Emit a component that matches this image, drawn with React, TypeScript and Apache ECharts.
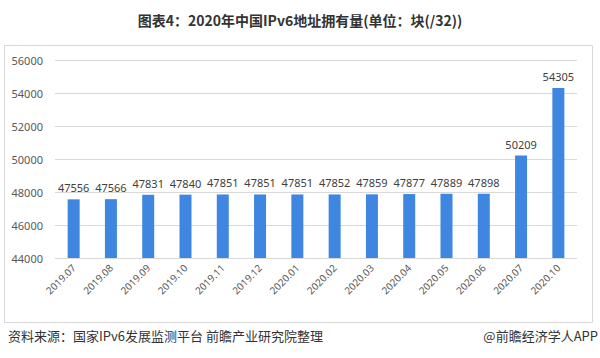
import React, { useEffect, useRef } from "react";
import * as echarts from "echarts";

const categories = ["2019.07","2019.08","2019.09","2019.10","2019.11","2019.12","2020.01","2020.02","2020.03","2020.04","2020.05","2020.06","2020.07","2020.10"];
const values = [47556,47566,47831,47840,47851,47851,47851,47852,47859,47877,47889,47898,50209,54305];
const yMin = 44000;
const yMax = 56000;
const yInterval = 2000;
const title = "图表4：2020年中国IPv6地址拥有量(单位：块(/32))";
const source = "资料来源：国家IPv6发展监测平台 前瞻产业研究院整理";
const brand = "@前瞻经济学人APP";

export default function App() {
  const ref = useRef<HTMLDivElement>(null);
  useEffect(() => {
    const chart = echarts.init(ref.current!, null, { renderer: "svg" });
    chart.setOption({
      animation: false,
      backgroundColor: "#ffffff",
      title: {
        text: title,
        left: "center",
        top: 8,
        textStyle: { fontSize: 14, fontWeight: "bold", color: "#333333", fontFamily: "Noto Sans CJK SC" },
      },
      graphic: [
        { type: "rect", shape: { x: 4.5, y: 45.5, width: 588, height: 277 }, style: { fill: "none", stroke: "#d9d9d9", lineWidth: 1 } },
        { type: "text", left: 8, top: 329, style: { text: source, fontSize: 13, fill: "#333333", fontFamily: "Noto Sans CJK SC" } },
        { type: "text", right: 2, top: 329, style: { text: brand, fontSize: 13, fill: "#333333", fontFamily: "Noto Sans CJK SC" } },
      ],
      grid: { left: 55, right: 23, top: 60, bottom: 100, containLabel: false },
      xAxis: {
        type: "category",
        data: categories,
        axisTick: { show: false },
        axisLine: { show: false },
        axisLabel: { rotate: 45, fontSize: 10, color: "#595959", margin: 8, interval: 0, fontFamily: "Noto Sans" },
      },
      yAxis: {
        type: "value",
        min: yMin,
        max: yMax,
        interval: yInterval,
        axisLine: { show: false },
        axisTick: { show: false },
        axisLabel: { fontSize: 11, color: "#595959", margin: 12, fontFamily: "Noto Sans", formatter: (v: number) => String(v) },
        splitLine: { lineStyle: { color: "#d9d9d9", width: 1 } },
      },
      series: [
        {
          type: "bar",
          data: values,
          barWidth: 12,
          itemStyle: { color: "#3f86e0" },
          label: { show: true, position: "top", fontSize: 11, color: "#404040", distance: 6, fontFamily: "Noto Sans" },
        },
      ],
    });
    return () => chart.dispose();
  }, []);
  return <div ref={ref} style={{ width: 600, height: 358, position: "absolute", left: 0, top: 0 }} />;
}
